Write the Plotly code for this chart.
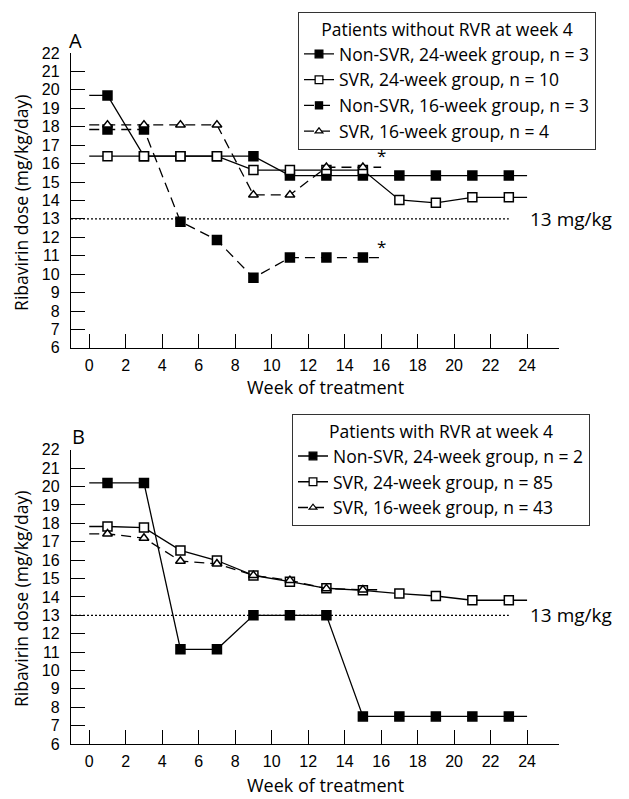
import plotly.graph_objects as go

# ---------------- data ----------------
weeks_24 = [0, 1, 3, 5, 7, 9, 11, 13, 15, 17, 19, 21, 23, 24]
weeks_16 = [0, 1, 3, 5, 7, 9, 11, 13, 15, 16]
x_ticks = [0, 2, 4, 6, 8, 10, 12, 14, 16, 18, 20, 22, 24]
y_ticks = list(range(6, 23))

# Panel A: patients without RVR at week 4
a_nonsvr24 = [19.7, 19.7, 16.4, 16.4, 16.4, 16.4, 15.35, 15.35, 15.35, 15.35, 15.35, 15.35, 15.35, 15.35]
a_svr24 = [16.4, 16.4, 16.4, 16.4, 16.4, 15.65, 15.65, 15.65, 15.65, 14.03, 13.87, 14.17, 14.17, 14.17]
a_nonsvr16 = [17.85, 17.85, 17.85, 12.85, 11.85, 9.8, 10.9, 10.9, 10.9, 10.9]
a_svr16 = [18.1, 18.1, 18.1, 18.1, 18.1, 14.3, 14.3, 15.8, 15.8, 15.8]

# Panel B: patients with RVR at week 4
b_nonsvr24 = [20.2, 20.2, 20.2, 11.15, 11.15, 13.0, 13.0, 13.0, 7.5, 7.5, 7.5, 7.5, 7.5, 7.5]
b_svr24 = [17.83, 17.83, 17.77, 16.53, 15.98, 15.17, 14.83, 14.47, 14.36, 14.18, 14.05, 13.82, 13.82, 13.82]
b_svr16 = [17.43, 17.43, 17.2, 15.95, 15.8, 15.17, 14.9, 14.45, 14.39, 14.39]

threshold_x = [-1, 23]
threshold_y = [13, 13]
threshold_label = "13 mg/kg"

names_a = ["Non-SVR, 24-week group, n = 3", "SVR, 24-week group, n = 10",
           "Non-SVR, 16-week group, n = 3", "SVR, 16-week group, n = 4"]
names_b = ["Non-SVR, 24-week group, n = 2", "SVR, 24-week group, n = 85",
           "SVR, 16-week group, n = 43"]
legend_title_a = "Patients without RVR at week 4"
legend_title_b = "Patients with RVR at week 4"

FONT = "Open Sans"
TICKFONT = "Liberation Sans"
FS = 17.5
DASH = "10px,6px"


def series(x, y, name, filled, symbol, dash, xa, ya, legend):
    n = len(x)
    base = 9 if symbol == "square" else 8.5
    size = [base] * n
    lw = [1.5] * n
    size[0] = size[-1] = 0
    lw[0] = lw[-1] = 0
    return go.Scatter(
        x=x, y=y, name=name, mode="lines+markers",
        line=dict(color="#000000", width=1.3, dash=dash),
        marker=dict(symbol=symbol, size=size, opacity=1,
                    color="#000000" if filled else "#ffffff",
                    line=dict(color="#000000", width=lw)),
        xaxis=xa, yaxis=ya, legend=legend, showlegend=True,
    )


fig = go.Figure()
# Panel A
fig.add_trace(series(weeks_24, a_nonsvr24, names_a[0], True, "square", "solid", "x", "y", "legend"))
fig.add_trace(series(weeks_24, a_svr24, names_a[1], False, "square", "solid", "x", "y", "legend"))
fig.add_trace(series(weeks_16, a_nonsvr16, names_a[2], True, "square", DASH, "x", "y", "legend"))
fig.add_trace(series(weeks_16, a_svr16, names_a[3], False, "triangle-up", DASH, "x", "y", "legend"))
fig.add_trace(go.Scatter(x=threshold_x, y=threshold_y, mode="lines", showlegend=False,
                         line=dict(color="black", width=1.2, dash="2px,2px"), xaxis="x", yaxis="y"))
# Panel B
fig.add_trace(series(weeks_24, b_nonsvr24, names_b[0], True, "square", "solid", "x2", "y2", "legend2"))
fig.add_trace(series(weeks_24, b_svr24, names_b[1], False, "square", "solid", "x2", "y2", "legend2"))
fig.add_trace(series(weeks_16, b_svr16, names_b[2], False, "triangle-up", DASH, "x2", "y2", "legend2"))
fig.add_trace(go.Scatter(x=threshold_x, y=threshold_y, mode="lines", showlegend=False,
                         line=dict(color="black", width=1.2, dash="2px,2px"), xaxis="x2", yaxis="y2"))

W, H = 629, 799
ML, MR, MT, MB = 71, 70, 48, 55
PW = W - ML - MR
PH = H - MT - MB


def px_x(p):
    return (p - ML) / PW


def px_y(p):
    return (H - MB - p) / PH


axis_common = dict(showline=True, linecolor="black", linewidth=1.3, mirror=False,
                   showgrid=False, zeroline=False, ticks="inside", ticklen=14,
                   tickwidth=1.3, tickcolor="black",
                   tickfont=dict(family=TICKFONT, size=16, color="black"))

xa = dict(axis_common, range=[-1, 25.75], tickmode="array", tickvals=x_ticks,
          ticktext=[str(v) for v in x_ticks], ticklabelstandoff=3)
ya = dict(axis_common, range=[6, 22], tickmode="array", tickvals=y_ticks,
          ticktext=[str(v) for v in y_ticks], ticklabelstandoff=7)

yA_dom = [px_y(345), 1.0]
yB_dom = [0.0, px_y(447.7)]

legend_common = dict(bgcolor="white", bordercolor="#333", borderwidth=1,
                     font=dict(family=FONT, size=FS, color="black"),
                     xanchor="left", yanchor="top", tracegroupgap=0,
                     itemwidth=30)

fig.update_layout(
    width=W, height=H,
    margin=dict(l=ML, r=MR, t=MT, b=MB, pad=0),
    paper_bgcolor="white", plot_bgcolor="white",
    font=dict(family=FONT, size=FS, color="black"),
    xaxis=dict(xa, anchor="y", domain=[0, 1]),
    yaxis=dict(ya, anchor="x", domain=yA_dom),
    xaxis2=dict(xa, anchor="y2", domain=[0, 1]),
    yaxis2=dict(ya, anchor="x2", domain=yB_dom),
    legend=dict(legend_common, x=px_x(298), y=px_y(7),
                title=dict(text=legend_title_a, side="top center",
                           font=dict(family=FONT, size=FS, color="black"))),
    legend2=dict(legend_common, x=px_x(292), y=px_y(412),
                 title=dict(text=legend_title_b, side="top center",
                            font=dict(family=FONT, size=FS, color="black"))),
)

ann = []
# panel letters
ann.append(dict(text="A", xref="paper", yref="paper", x=px_x(67), y=px_y(35),
                xanchor="left", yanchor="middle", showarrow=False,
                font=dict(family=FONT, size=20, color="black")))
ann.append(dict(text="B", xref="paper", yref="paper", x=px_x(70), y=px_y(434),
                xanchor="left", yanchor="middle", showarrow=False,
                font=dict(family=FONT, size=20, color="black")))
# axis titles
for yc in (199, 598):
    ann.append(dict(text="Ribavirin dose (mg/kg/day)", xref="paper", yref="paper",
                    x=px_x(21), y=px_y(yc), xanchor="center", yanchor="middle",
                    textangle=-90, showarrow=False,
                    font=dict(family=FONT, size=FS, color="black")))
for yc in (384, 785):
    ann.append(dict(text="Week of treatment", xref="paper", yref="paper",
                    x=px_x(325), y=px_y(yc), xanchor="center", yanchor="middle",
                    showarrow=False, font=dict(family=FONT, size=18, color="black")))
# threshold labels
for xr, yr in (("x", "y"), ("x2", "y2")):
    ann.append(dict(text=threshold_label, xref=xr, yref=yr, x=24, y=13,
                    xanchor="left", yanchor="middle", xshift=1, showarrow=False,
                    font=dict(family=FONT, size=19, color="black")))
# asterisks marking end of 16-week treatment
for yv in (a_svr16[-1], a_nonsvr16[-1]):
    ann.append(dict(text="*", xref="x", yref="y", x=weeks_16[-1], y=yv,
                    xanchor="center", yanchor="bottom", yshift=-2, xshift=0,
                    showarrow=False, font=dict(family=FONT, size=17, color="black")))
fig.update_layout(annotations=ann)

fig.write_html("out.html")
